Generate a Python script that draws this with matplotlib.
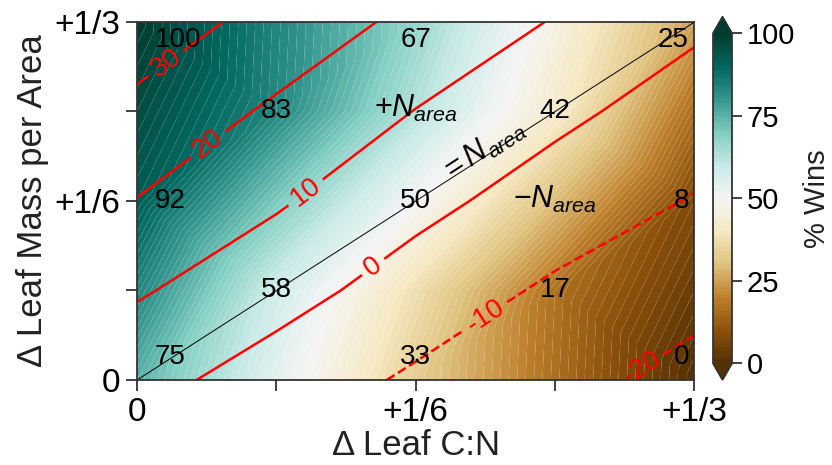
import matplotlib
matplotlib.use("Agg")
import matplotlib.pyplot as plt
import numpy as np
import matplotlib.tri as mtri

plt.rcParams['font.family'] = ['Liberation Sans', 'DejaVu Sans']
plt.rcParams['mathtext.fontset'] = 'custom'
plt.rcParams['mathtext.rm'] = 'Liberation Sans'
plt.rcParams['mathtext.it'] = 'Liberation Sans:italic'

# grid points (fraction change)
d_cn = [0, 1/6, 1/3, 0, 1/6, 1/3, 0, 1/6, 1/3, 1/12, 1/4, 1/12, 1/4]
d_lma = [0, 0, 0, 1/6, 1/6, 1/6, 1/3, 1/3, 1/3, 1/12, 1/12, 1/4, 1/4]
# % wins at each point
wins = [75, 33, 0, 92, 50, 8, 100, 67, 25, 58, 17, 83, 42]

# red contour field (% change) on a 5x5 grid
grid_cn = [0, 1/12, 1/6, 1/4, 1/3]
grid_lma = [0, 1/12, 1/6, 1/4, 1/3]
change = [
    [3.2, -4.3, -11.5, -17.2, -23.0],
    [11.0, 3.6, -4.2, -11.6, -17.0],
    [19.7, 11.1, 2.7, -4.3, -10.6],
    [27.6, 18.4, 9.75, 2.2, -4.4],
    [35.5, 26.6, 17.4, 9.4, 1.7],
]
change_levels = [-20, -10, 0, 10, 20, 30]

ticks = [0, 1/12, 1/6, 1/4, 1/3]
ticklabels = ['0', '', '+1/6', '', '+1/3']

fig = plt.figure(figsize=(8.32, 4.65), dpi=100)
ax = fig.add_axes([0.1647, 0.1828, 0.6700, 0.7699])

tri = mtri.Triangulation(d_cn, d_lma)
cf = ax.tricontourf(tri, wins, levels=np.linspace(0, 100, 101), cmap='BrBG',
                    extend='both', antialiased=True)
cs = ax.contour(grid_cn, grid_lma, change, levels=change_levels, colors='red',
                linewidths=1.8)
ax.clabel(cs, fmt='%d', fontsize=20, inline=True, inline_spacing=6,
          manual=[(0.0137, 0.3026), (0.0406, 0.2235), (0.0974, 0.1816),
                  (0.139, 0.110), (0.207, 0.0624), (0.300, 0.0158)])

ax.plot([0, 1/3], [0, 1/3], color='black', lw=0.7)

for x, y, w in zip(d_cn, d_lma, wins):
    ha = 'center'
    xt = x
    if x == 0:
        ha = 'left'
        xt = 0.0105
    elif x == 1/3:
        ha = 'right'
        xt = 0.330
    yt = min(max(y, 0.021), 0.317)
    ax.text(xt, yt, str(w), ha=ha, va='center', fontsize=20)

ax.text(0.167, 0.253, r'$+N_{area}$', ha='center', va='center', fontsize=22)
ax.text(0.25, 0.168, r'$-N_{area}$', ha='center', va='center', fontsize=22)
ax.text(0.207, 0.214, r'$=N_{area}$', ha='center', va='center', fontsize=22,
        rotation=33)

ax.set_xlim(0, 1/3)
ax.set_ylim(0, 1/3)
ax.set_xticks(ticks)
ax.set_xticklabels(ticklabels)
ax.set_yticks(ticks)
ax.set_yticklabels(ticklabels)
ax.tick_params(labelsize=24, length=8, width=1.3, color='#333333', pad=4)
for s in ax.spines.values():
    s.set_color('#333333')
    s.set_linewidth(1.3)
ax.set_xlabel('Δ Leaf C:N', fontsize=25, color='#222222', labelpad=1)
ax.set_ylabel('Δ Leaf Mass per Area', fontsize=25, color='#222222')

cax = fig.add_axes([0.857, 0.183, 0.0228, 0.781])
cb = fig.colorbar(cf, cax=cax, ticks=[0, 25, 50, 75, 100])
cb.set_label('% Wins', fontsize=21, color='#222222', labelpad=6)
cb.ax.tick_params(labelsize=21, length=7, width=1.3, color='#333333')
cb.outline.set_edgecolor('#333333')
cb.outline.set_linewidth(1.3)

fig.savefig('out.png', dpi=100)
